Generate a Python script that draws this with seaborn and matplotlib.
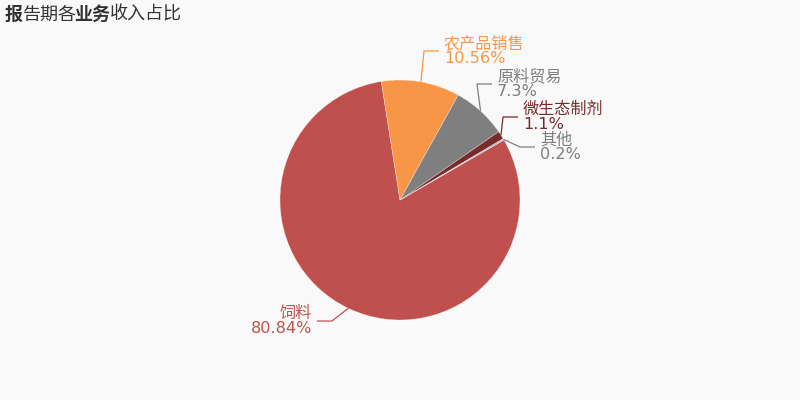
import matplotlib
matplotlib.use("Agg")
import matplotlib.pyplot as plt
import seaborn as sns
import numpy as np

# ---- data ----
categories = ["饲料", "农产品销售", "原料贸易", "微生态制剂", "其他"]
values = [80.84, 10.56, 7.3, 1.1, 0.2]
value_labels = ["80.84%", "10.56%", "7.3%", "1.1%", "0.2%"]
title_parts = [("报", "bold"), ("告期各", "normal"), ("业务", "bold"), ("收入占比", "normal")]

# ---- style ----
slice_colors = ["#c0504d", "#f79646", "#7f7f7f", "#772c2a", "#b3aec8"]
text_colors = ["#c0504d", "#f79646", "#7f7f7f", "#772c2a", "#7f7f7f"]
bg = "#f9f9f9"

sns.set_theme(style="white")
plt.rcParams["font.family"] = ["DejaVu Sans", "Noto Sans CJK SC"]

W, H, DPI = 800, 400, 100
R = 120.0  # pie radius in px
fig = plt.figure(figsize=(W / DPI, H / DPI), dpi=DPI, facecolor=bg)
ax = fig.add_axes([0, 0, 1, 1])
ax.set_facecolor(bg)
ax.axis("off")

wedges, _ = ax.pie(values, colors=slice_colors, startangle=30, counterclock=False,
                   radius=1.0, center=(0, 0),
                   wedgeprops=dict(edgecolor=(1, 1, 1, 0.5), linewidth=0.4))
ax.set_xlim(-W / 2 / R, W / 2 / R)
ax.set_ylim(-H / 2 / R, H / 2 / R)
ax.set_aspect("equal")

# label layout: elbow offsets (px from center, y up)
elbows = [(-68, -121), (24, 149), (77, 116), (103, 83), (120, 53)]
seg = 15
gap = 5
for w, name, vl, tc, (ex, ey) in zip(wedges, categories, value_labels, text_colors, elbows):
    mid = np.deg2rad((w.theta1 + w.theta2) / 2)
    p0 = (np.cos(mid), np.sin(mid))
    p1 = (ex / R, ey / R)
    side = 1 if ex > 0 else -1
    p2 = ((ex + side * seg) / R, ey / R)
    ax.plot([p0[0], p1[0], p2[0]], [p0[1], p1[1], p2[1]], color=tc, lw=0.9,
            solid_capstyle="butt")
    ax.text((ex + side * (seg + gap)) / R, ey / R, f"{name}\n{vl}", color=tc,
            fontsize=11.6, ha="left" if side > 0 else "right",
            multialignment="left" if side > 0 else "right",
            va="center", linespacing=1.0)

# title with mixed weights (CJK glyphs are one em wide)
title_fs = 13.0
em_px = title_fs * DPI / 72
x = 5
for i, (txt, wt) in enumerate(title_parts):
    if wt == "bold" and i > 0:
        x -= 3
    fig.text(x / W, 1 - 20 / H, txt, fontsize=title_fs, fontweight=wt, color="#333333",
             ha="left", va="baseline", family=["Noto Sans CJK SC", "DejaVu Sans"])
    x += len(txt) * em_px

fig.savefig("out.png", dpi=DPI, facecolor=bg)
